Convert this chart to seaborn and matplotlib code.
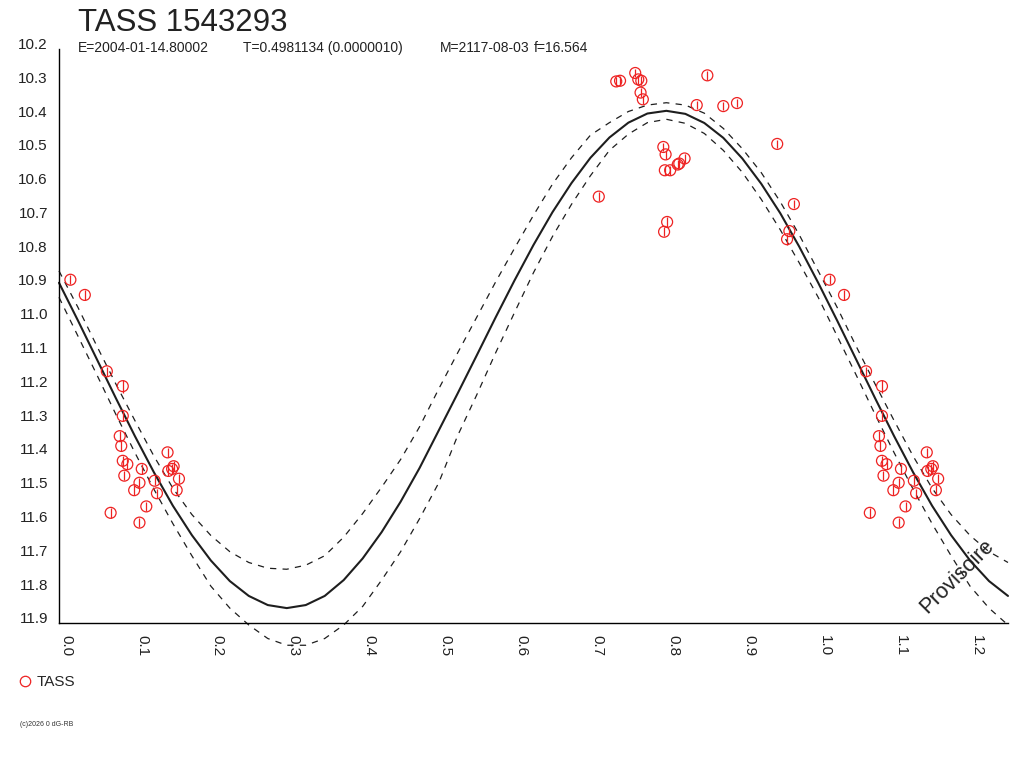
import numpy as np
import pandas as pd
import matplotlib
matplotlib.use("Agg")
import matplotlib.pyplot as plt
from matplotlib.lines import Line2D
import seaborn as sns

# TASS observations folded on the period (phase, V mag, error)
OBS_PHASE = [0.015, 0.034, 0.063, 0.084, 0.084, 0.080, 0.082, 0.084, 0.090, 0.086,
             0.109, 0.106, 0.099, 0.126, 0.129, 0.115, 0.068, 0.106, 0.143, 0.144,
             0.149, 0.151, 0.158, 0.155,
             0.711, 0.734, 0.739, 0.759, 0.763, 0.767, 0.766, 0.769, 0.854, 0.840,
             0.875, 0.893, 0.796, 0.799, 0.798, 0.805, 0.815, 0.817, 0.824, 0.801,
             0.797, 0.946, 0.968, 0.962, 0.959]
OBS_MAG = [10.883, 10.928, 11.154, 11.198, 11.286, 11.346, 11.375, 11.419, 11.429, 11.463,
           11.443, 11.484, 11.506, 11.478, 11.515, 11.554, 11.573, 11.602, 11.394, 11.449,
           11.443, 11.435, 11.472, 11.506,
           10.637, 10.296, 10.294, 10.271, 10.290, 10.294, 10.329, 10.349, 10.278, 10.366,
           10.369, 10.360, 10.490, 10.512, 10.559, 10.559, 10.542, 10.539, 10.524, 10.712,
           10.741, 10.481, 10.659, 10.739, 10.763]
OBS_ERR = [0.014, 0.014, 0.014, 0.019, 0.014, 0.014, 0.014, 0.015, 0.014, 0.014,
           0.014, 0.014, 0.014, 0.014, 0.014, 0.014, 0.014, 0.014, 0.014, 0.014,
           0.014, 0.014, 0.014, 0.014,
           0.013, 0.013, 0.013, 0.013, 0.013, 0.013, 0.013, 0.013, 0.013, 0.013,
           0.013, 0.013, 0.013, 0.013, 0.013, 0.013, 0.013, 0.013, 0.013, 0.015,
           0.013, 0.013, 0.013, 0.013, 0.016]

# fitted light curve and its envelope, read every 0.025 in phase
FIT_PHASE = [0.000, 0.025, 0.050, 0.075, 0.100, 0.125, 0.150, 0.175, 0.200, 0.225,
             0.250, 0.275, 0.300, 0.325, 0.350, 0.375, 0.400, 0.425, 0.450, 0.475,
             0.500, 0.525, 0.550, 0.575, 0.600, 0.625, 0.650, 0.675, 0.700, 0.725,
             0.750, 0.775, 0.800, 0.825, 0.850, 0.875, 0.900, 0.925, 0.950, 0.975, 1.000]
FIT_MAG = [10.892, 11.004, 11.119, 11.234, 11.346, 11.453, 11.552, 11.639, 11.714, 11.775,
           11.819, 11.846, 11.855, 11.846, 11.819, 11.772, 11.708, 11.630, 11.540, 11.440,
           11.330, 11.220, 11.108, 10.995, 10.885, 10.780, 10.683, 10.597, 10.522, 10.462,
           10.418, 10.391, 10.383, 10.392, 10.419, 10.463, 10.524, 10.599, 10.686, 10.785, 10.892]
ENV_BRIGHT = [10.857, 10.965, 11.080, 11.192, 11.300, 11.405, 11.500, 11.578, 11.640, 11.688,
              11.720, 11.737, 11.740, 11.728, 11.700, 11.645, 11.575, 11.497, 11.415, 11.318,
              11.207, 11.100, 10.995, 10.890, 10.790, 10.692, 10.600, 10.522, 10.455, 10.418,
              10.385, 10.366, 10.359, 10.366, 10.390, 10.435, 10.495, 10.566, 10.652, 10.750, 10.857]
ENV_FAINT = [10.935, 11.050, 11.165, 11.282, 11.395, 11.503, 11.605, 11.700, 11.790, 11.855,
             11.905, 11.945, 11.965, 11.965, 11.945, 11.905, 11.850, 11.772, 11.688, 11.590,
             11.485, 11.345, 11.225, 11.100, 10.980, 10.862, 10.755, 10.660, 10.575, 10.500,
             10.452, 10.418, 10.408, 10.420, 10.450, 10.500, 10.565, 10.645, 10.735, 10.833, 10.935]

X_LABELS = ["0.0", "0.1", "0.2", "0.3", "0.4", "0.5", "0.6", "0.7", "0.8", "0.9",
            "1.0", "1.1", "1.2"]
X_MINOR = [0.05, 0.15, 0.25, 0.35, 0.45, 0.55, 0.65, 0.75, 0.85, 0.95, 1.05, 1.15, 1.25]
Y_LABELS = ["10.2", "10.3", "10.4", "10.5", "10.6", "10.7", "10.8", "10.9", "11.0",
            "11.1", "11.2", "11.3", "11.4", "11.5", "11.6", "11.7", "11.8", "11.9"]

TITLE = "TASS 1543293"
INFO = ["E=2004-01-14.80002", "T=0.4981134 (0.0000010)", "M=2117-08-03", "f=16.564"]

PHASE_MAX = 1.25
RED = "#EE2222"
INK = "#1E1E1E"

sns.set_style("white")
plt.rcParams["font.family"] = ["Liberation Sans", "DejaVu Sans"]


def wrap(df):
    # repeat the start of the cycle after phase 1
    extra = df[(df["phase"] + 1 > df["phase"].max()) & (df["phase"] + 1 <= PHASE_MAX)].copy()
    extra["phase"] += 1
    return pd.concat([df, extra], ignore_index=True).sort_values("phase")


obs = wrap(pd.DataFrame({"phase": OBS_PHASE, "mag": OBS_MAG, "err": OBS_ERR}))
fit = wrap(pd.DataFrame({"phase": FIT_PHASE, "mag": FIT_MAG,
                         "bright": ENV_BRIGHT, "faint": ENV_FAINT}))

fig = plt.figure(figsize=(10.24, 7.68), dpi=100)
fig.patch.set_facecolor("white")
ax = fig.add_axes([59 / 1024, (768 - 623.3) / 768, (1008 - 59) / 1024, (623.3 - 49) / 768])
ax.set_facecolor("white")

sns.lineplot(data=fit, x="phase", y="mag", estimator=None, sort=False, color=INK,
             linewidth=1.5, clip_on=False, ax=ax)
for col in ["bright", "faint"]:
    sns.lineplot(data=fit, x="phase", y=col, estimator=None, sort=False, color=INK,
                 linewidth=0.9, linestyle=(0, (5, 5)), clip_on=False, ax=ax)

ax.errorbar(obs["phase"], obs["mag"], yerr=obs["err"], fmt="none", ecolor=RED,
            elinewidth=0.9, capsize=0, zorder=3)
sns.scatterplot(data=obs, x="phase", y="mag", marker="o", s=62, color=RED,
                edgecolor=RED, linewidth=0.9, zorder=4, ax=ax)
pts = ax.collections[-1]
pts.set_facecolor("none")
pts.set_edgecolor(RED)

ax.set_xlim(0, PHASE_MAX)
ax.set_ylim(float(Y_LABELS[-1]), float(Y_LABELS[0]))
ax.set_xlabel("")
ax.set_ylabel("")

for side in ["top", "right"]:
    ax.spines[side].set_visible(False)
for side in ["left", "bottom"]:
    ax.spines[side].set_color("black")
    ax.spines[side].set_linewidth(1.0)

ax.set_xticks([float(t) for t in X_LABELS])
ax.set_xticklabels(X_LABELS)
ax.set_xticks(X_MINOR, minor=True)
ax.set_yticks([float(t) for t in Y_LABELS])
ax.set_yticklabels(Y_LABELS)
ax.tick_params(axis="x", which="both", direction="out", length=7.2, width=1.0,
               color="black", pad=1, labelsize=11, labelcolor="#222222")
ax.tick_params(axis="y", which="both", direction="out", length=6.5, width=1.0,
               color="black", pad=1.5, labelsize=11, labelcolor="#222222")
for lab in ax.get_xticklabels():
    lab.set_rotation(-90)
    lab.set_ha("left")
    lab.set_va("top")
for lab in ax.get_yticklabels():
    lab.set_va("baseline")
ax.grid(False)

fig.text(78 / 1024, 1 - 31 / 768, TITLE, fontsize=22.5, color="#222222", va="baseline")
for txt, px in zip(INFO, [78, 243, 440, 534]):
    fig.text(px / 1024, 1 - 52 / 768, txt, fontsize=10, color="#222222", va="baseline")

ax.text(1.183, 11.76, "Provisoire", fontsize=15.5, color="#222222", rotation=45,
        ha="center", va="center", zorder=5)

handle = Line2D([], [], marker="o", linestyle="none", markersize=7.5,
                markerfacecolor="none", markeredgecolor=RED, markeredgewidth=0.9)
fig.legend([handle], ["TASS"], loc="center left", frameon=False,
           bbox_to_anchor=(17 / 1024, 1 - 682 / 768), bbox_transform=fig.transFigure,
           fontsize=11, handlelength=1.0, handletextpad=0.3, borderpad=0, borderaxespad=0)

fig.text(20 / 1024, 1 - 725 / 768, "(c)2026 0 dG-RB", fontsize=5, color="#333333",
         va="center")

fig.savefig("out.png", dpi=100, facecolor="white")
